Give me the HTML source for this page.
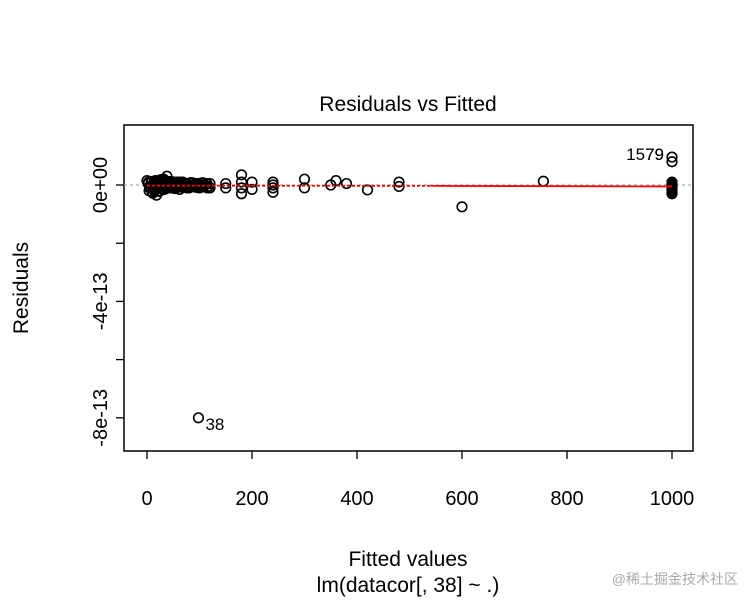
<!DOCTYPE html>
<html><head><meta charset="utf-8"><style>
body{margin:0;background:#fff;}
svg{display:block;font-family:"Liberation Sans",Arial,sans-serif;}
</style></head><body>
<svg id="chart" width="756" height="606" viewBox="0 0 756 606" xmlns="http://www.w3.org/2000/svg">
<rect width="756" height="606" fill="#fff"/>
<text x="408" y="111" font-size="21" text-anchor="middle">Residuals vs Fitted</text>
<rect x="124" y="125" width="569" height="326" fill="none" stroke="#000" stroke-width="1.5"/>
<g id="grid"></g>
<g id="axes"></g>
<g id="marks"></g>
<text x="408" y="566" font-size="21" text-anchor="middle">Fitted values</text>
<text x="408" y="592" font-size="21" text-anchor="middle">lm(datacor[, 38] ~ .)</text>
<text x="0" y="0" font-size="21" text-anchor="middle" transform="translate(28,288) rotate(-90)">Residuals</text>
<text x="738" y="584" font-size="14" fill="#aaa" text-anchor="end" font-family="'Liberation Sans','Noto Sans CJK SC',sans-serif">@稀土掘金技术社区</text>
</svg>
<script>
const xTicks=[0,200,400,600,800,1000];
const yTicks=[0,-2,-4,-6,-8];
const yTickLabels={"0":"0e+00","-4":"-4e-13","-8":"-8e-13"};
// residuals in units of 1e-13
const fitted=[0,3,5,8,10,12,15,18,20,22,25,28,30,32,35,38,40,42,45,48,50,55,60,62,65,70,75,80,85,90,95,100,105,110,115,120,5,10,15,20,25,30,35,40,50,60,70,80,90,100,110,120,150,150,180,180,180,180,200,200,240,240,240,240,300,300,350,360,380,420,480,480,600,755,1000,1000,1000,1000,1000,1000,1000,98,
 2,6,9,13,17,21,24,27,31,34,37,41,44,47,52,57,63,67,72,78,83,88,93,98,103,108,113,118,4,11,16,23,29,36,43,53,58,68,76,86,96,106,116,14,26,33,46,56,66,74,84,94,104,114,1000,1000,1000,1000];
const resid=[0.15,0.1,-0.1,0.1,-0.25,0.05,0.1,-0.35,0.05,0.1,-0.2,0.15,-0.05,0.2,0.05,0.3,-0.1,0.05,0.1,-0.1,0.05,-0.1,0.1,-0.15,0.05,-0.05,0.05,-0.1,0.05,-0.05,0.05,-0.1,0.05,0.0,-0.1,0.05,-0.05,0.0,0.0,0.0,-0.05,-0.05,0.0,0.0,0.0,0.0,0.0,0.0,0.0,0.0,0.0,-0.1,0.05,-0.1,0.35,0.1,-0.1,-0.3,0.1,-0.15,0.1,-0.1,-0.25,0.0,0.2,-0.1,0.0,0.15,0.05,-0.17,0.1,-0.05,-0.75,0.13,0.96,0.8,0.05,-0.05,-0.15,-0.25,0.0,-8.0,
 0.05,-0.1,0.12,-0.15,0.08,-0.05,0.1,-0.12,0.06,-0.08,0.12,-0.06,0.08,-0.1,0.1,-0.05,0.08,-0.08,0.06,-0.05,0.08,-0.06,0.05,-0.05,0.06,-0.06,0.05,-0.05,-0.2,-0.28,0.15,-0.22,0.18,-0.12,0.12,-0.12,0.1,0.1,-0.1,0.08,-0.08,0.08,-0.05,-0.2,0.18,-0.15,0.12,-0.1,0.1,-0.08,0.08,-0.08,-0.05,0.05,0.1,-0.1,-0.2,-0.3];
const labelIdx=[{i:74,t:"1579"},{i:75,t:"79"},{i:81,t:"38"}];
const smoothX=[0,540,1000];
const smoothY=[-0.02,-0.03,-0.05];
const X=v=>147+v*0.525, Y=v=>185-v*29.1;
const NS="http://www.w3.org/2000/svg", svg=document.getElementById('chart');
const ax=document.getElementById('axes'), mk=document.getElementById('marks'), gr=document.getElementById('grid');
function el(t,a,p){const e=document.createElementNS(NS,t);for(const k in a)e.setAttribute(k,a[k]);p.appendChild(e);return e;}
const zl=el('line',{x1:124,x2:693,y1:Y(0),y2:Y(0),stroke:'#aaa','stroke-dasharray':'3,3','stroke-width':1.2},gr);


el('line',{x1:X(0),x2:X(1000),y1:451,y2:451,stroke:'#000'},ax);
xTicks.forEach(v=>{
 const l=el('line',{x1:X(v),x2:X(v),y1:451,y2:459,stroke:'#000','stroke-width':1.3},ax);
 
 
 const t=el('text',{x:X(v),y:505,'font-size':20,'text-anchor':'middle'},ax);t.textContent=v;
 
 
});
yTicks.forEach(v=>{
 const l=el('line',{x1:116,x2:124,y1:Y(v),y2:Y(v),stroke:'#000','stroke-width':1.3},ax);
 
 
 if(yTickLabels[v]){const t=el('text',{x:0,y:0,'font-size':20,'text-anchor':'middle',transform:`translate(107,${Y(v)}) rotate(-90)`},ax);t.textContent=yTickLabels[v];
 
 }
});
fitted.forEach((f,i)=>{
 const c=el('circle',{cx:X(f),cy:Y(resid[i]),r:4.8,fill:'none',stroke:'#000','stroke-width':1.6},mk);
 
 
});
for(let k=0;k<smoothX.length-1;k++){
 const l=el('line',{x1:X(smoothX[k]),x2:X(smoothX[k+1]),y1:Y(smoothY[k]),y2:Y(smoothY[k+1]),stroke:'#f00','stroke-width':1.8,'stroke-dasharray':k==0?'3,2':'none'},mk);
 
 
}
labelIdx.forEach(o=>{
 const is38=o.t=="38";
 const t=el('text',{x:is38?X(fitted[o.i])+7:X(fitted[o.i])-8,y:is38?Y(resid[o.i])+12:Y(0.9)+1,'font-size':17,'text-anchor':is38?'start':'end'},mk);
 t.textContent=o.t;
 
 
});
</script>
</body></html>
